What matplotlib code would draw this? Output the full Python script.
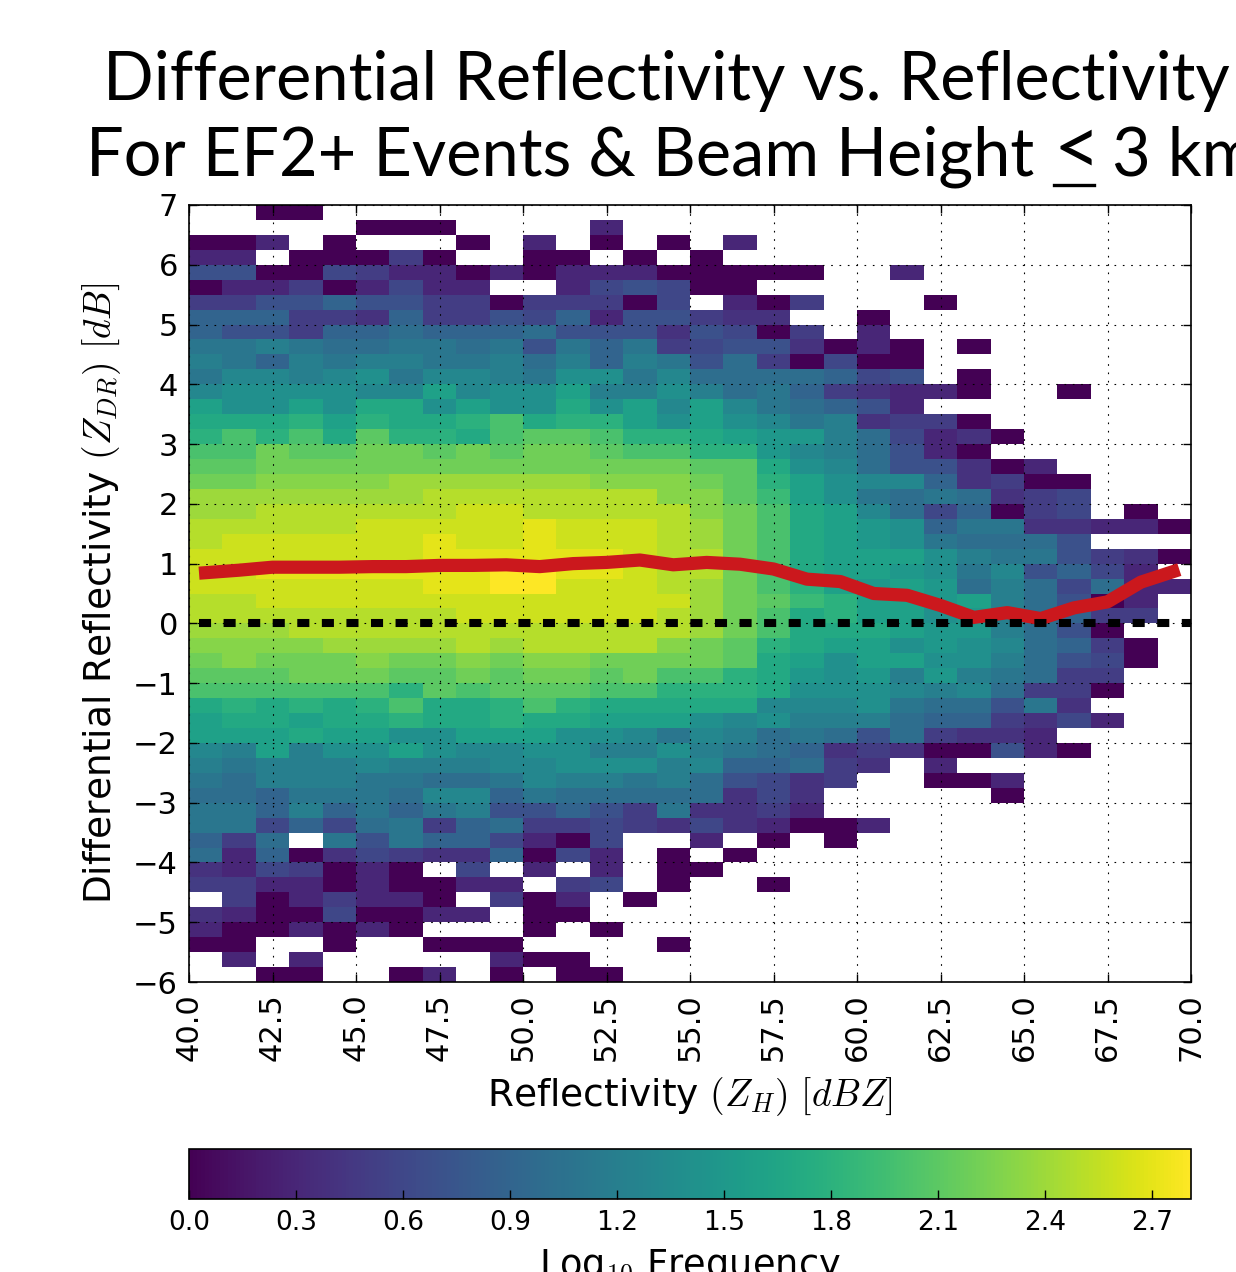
import matplotlib
matplotlib.use('Agg')
import matplotlib.pyplot as plt
from matplotlib.lines import Line2D
import numpy as np

W, H = 1236, 1272
X = -1

# log10 frequency x 10, top row (6.75-7 dB) first, X = no samples
log_freq_tenths = [
    [X,X,0,0,X,X,X,X,X,X, X,X,X,X,X,X,X,X,X,X, X,X,X,X,X,X,X,X,X,X],
    [X,X,X,X,X,0,0,0,X,X, X,X,3,X,X,X,X,X,X,X, X,X,X,X,X,X,X,X,X,X],
    [0,0,3,X,0,X,X,X,0,X, 3,X,0,X,0,X,3,X,X,X, X,X,X,X,X,X,X,X,X,X],
    [3,3,X,0,0,0,5,0,X,X, 0,0,X,0,X,0,X,X,X,X, X,X,X,X,X,X,X,X,X,X],
    [7,7,0,0,6,5,3,3,0,3, 0,3,3,3,0,0,0,0,0,X, X,3,X,X,X,X,X,X,X,X],
    [0,3,3,5,0,3,6,3,3,X, X,3,6,7,6,0,0,X,X,X, X,X,X,X,X,X,X,X,X,X],
    [5,5,7,7,9,7,7,5,5,0, 5,5,5,0,6,X,3,0,5,X, X,X,0,X,X,X,X,X,X,X],
    [9,9,9,5,5,4,9,5,5,7, 6,9,3,7,7,5,4,4,X,X, 0,X,X,X,X,X,X,X,X,X],
    [9,7,7,5,9,9,10,9,9,9, 10,7,7,7,4,7,6,0,5,X, 3,X,X,X,X,X,X,X,X,X],
    [11,11,12,11,10,10,11,11,10,11, 7,11,9,11,5,6,7,7,4,0, 3,0,X,0,X,X,X,X,X,X],
    [12,11,9,12,11,12,12,11,11,12, 10,12,9,12,11,7,10,5,0,6, 0,0,X,X,X,X,X,X,X,X],
    [11,13,13,12,13,14,11,13,13,12, 11,14,14,11,13,10,10,10,10,9, 6,7,X,0,X,X,X,X,X,X],
    [13,14,14,14,14,13,13,16,13,14, 14,16,12,12,14,12,10,11,9,5, 4,3,3,0,X,X,0,X,X,X],
    [16,14,14,16,14,17,17,14,16,14, 14,17,14,16,13,16,13,11,10,9, 7,3,X,X,X,X,X,X,X,X],
    [17,17,17,18,16,18,17,17,18,20, 17,18,18,16,14,16,14,13,11,12, 4,5,5,0,X,X,X,X,X,X],
    [18,20,18,20,17,21,18,18,17,20, 21,21,20,18,18,17,16,15,15,12, 10,6,3,4,0,X,X,X,X,X],
    [20,20,22,21,21,22,22,21,22,21, 22,22,21,20,20,18,18,15,13,12, 10,7,3,0,X,X,X,X,X,X],
    [21,21,22,22,22,22,22,22,22,22, 22,22,22,22,22,21,21,17,14,13, 10,7,7,4,0,3,X,X,X,X],
    [22,22,23,23,23,23,24,24,24,24, 24,24,23,23,23,22,21,18,16,14, 13,13,9,4,5,0,0,X,X,X],
    [24,24,24,24,24,24,24,25,25,25, 25,25,25,25,23,23,21,19,16,14, 11,10,11,10,4,5,6,X,X,X],
    [24,24,25,25,25,25,25,25,26,26, 25,25,25,25,25,23,22,20,17,16, 13,10,6,9,0,5,6,X,0,X],
    [25,25,25,25,25,26,26,26,26,26, 27,26,26,26,25,24,22,20,17,16, 15,14,9,11,11,4,4,3,3,0],
    [25,26,26,26,26,26,26,27,26,26, 27,26,26,26,25,24,22,20,17,16, 15,14,11,10,10,10,7,X,X,X],
    [26,26,26,26,26,26,26,27,27,27, 27,27,27,26,25,25,22,20,17,16, 16,16,14,12,11,11,7,5,4,0],
    [26,26,27,27,27,27,27,27,27,28, 28,27,27,26,25,25,22,20,17,16, 16,15,14,11,13,7,9,6,3,X],
    [26,26,26,26,26,26,26,27,27,28, 28,26,26,26,25,24,22,20,18,16, 15,16,15,10,12,10,6,10,3,3],
    [25,25,26,26,26,26,26,26,26,26, 26,26,26,26,26,24,22,21,19,18, 16,16,15,16,12,10,7,0,3,X],
    [25,25,25,25,25,25,25,25,26,26, 26,26,26,26,25,24,22,20,17,18, 16,16,14,15,12,10,9,5,5,X],
    [24,24,24,25,25,25,25,25,25,25, 25,25,25,25,25,24,22,20,17,17, 17,16,15,15,12,10,7,0,X,X],
    [23,23,23,23,24,24,24,24,25,24, 25,25,25,25,23,22,21,18,17,16, 16,14,15,14,13,10,9,5,0,X],
    [22,23,22,22,22,23,22,22,23,22, 23,23,22,22,22,22,21,17,16,14, 16,16,14,14,12,10,7,6,0,X],
    [21,21,21,22,22,22,21,21,22,21, 22,22,21,22,20,20,18,17,15,14, 15,12,15,12,11,10,5,5,X,X],
    [20,20,20,20,20,20,18,21,20,21, 21,21,20,20,18,18,18,17,14,14, 14,13,12,13,10,5,5,0,X,X],
    [17,18,17,18,17,18,20,17,17,18, 20,18,17,17,17,17,17,13,13,13, 14,11,10,10,7,11,4,X,X,X],
    [16,17,17,16,17,17,18,17,17,18, 17,17,16,16,16,14,13,14,12,12, 12,10,9,9,5,4,6,3,X,X],
    [16,16,16,17,16,16,14,14,16,16, 16,14,14,13,11,13,12,10,11,10, 7,10,5,4,4,3,X,X,X,X],
    [13,12,16,12,14,14,16,14,13,13, 14,14,12,12,14,12,11,10,9,4, 5,4,0,0,7,3,0,X,X,X],
    [12,11,12,12,12,13,12,12,12,13, 13,14,14,14,12,13,9,9,10,5, 4,X,3,X,X,X,X,X,X,X],
    [11,10,12,12,12,11,11,10,10,11, 13,12,12,11,12,10,7,6,4,5, X,X,0,0,3,X,X,X,X,X],
    [10,10,9,11,11,11,10,13,13,9, 11,10,10,10,10,10,4,6,4,X, X,X,X,X,0,X,X,X,X,X],
    [11,11,9,12,9,11,9,11,12,7, 7,9,7,5,11,4,4,5,3,X, X,X,X,X,X,X,X,X,X,X],
    [11,11,6,9,6,10,11,5,9,10, 5,5,6,5,4,6,4,3,0,0, 3,X,X,X,X,X,X,X,X,X],
    [9,5,10,X,11,7,11,9,9,6, 3,0,6,X,X,3,X,0,X,0, X,X,X,X,X,X,X,X,X,X],
    [10,3,9,0,4,6,5,4,4,9, 0,6,3,X,0,X,0,X,X,X, X,X,X,X,X,X,X,X,X,X],
    [4,3,6,5,0,3,0,X,6,X, 3,X,3,X,0,0,X,X,X,X, X,X,X,X,X,X,X,X,X,X],
    [5,5,3,3,0,3,0,0,3,3, X,5,6,X,0,X,X,0,X,X, X,X,X,X,X,X,X,X,X,X],
    [X,5,0,3,5,3,3,0,X,5, 0,3,X,0,X,X,X,X,X,X, X,X,X,X,X,X,X,X,X,X],
    [4,3,0,0,6,0,0,3,3,X, 0,0,X,X,X,X,X,X,X,X, X,X,X,X,X,X,X,X,X,X],
    [3,0,0,3,0,3,0,X,X,X, 0,X,0,X,X,X,X,X,X,X, X,X,X,X,X,X,X,X,X,X],
    [0,0,X,X,0,X,X,0,0,0, X,X,X,X,0,X,X,X,X,X, X,X,X,X,X,X,X,X,X,X],
    [X,3,X,3,X,X,X,X,X,3, 0,0,X,X,X,X,X,X,X,X, X,X,X,X,X,X,X,X,X,X],
    [X,X,0,0,X,X,0,3,X,0, X,0,0,X,X,X,X,X,X,X, X,X,X,X,X,X,X,X,X,X],
]

median_zh = [40.3, 41.5, 42.5, 43.5, 44.5, 45.5, 46.5, 47.5, 48.5, 49.5,
             50.5, 51.5, 52.5, 53.5, 54.5, 55.5, 56.5, 57.5, 58.5, 59.5,
             60.5, 61.5, 62.5, 63.5, 64.5, 65.5, 66.5, 67.5, 68.5, 69.65]
median_zdr = [0.84, 0.89, 0.94, 0.94, 0.94, 0.95, 0.95, 0.97, 0.97, 0.98,
              0.95, 1.00, 1.02, 1.06, 0.98, 1.02, 0.99, 0.91, 0.74, 0.70,
              0.50, 0.47, 0.30, 0.10, 0.18, 0.08, 0.26, 0.36, 0.69, 0.90]

x_ticks = [40.0, 42.5, 45.0, 47.5, 50.0, 52.5, 55.0, 57.5, 60.0, 62.5, 65.0, 67.5, 70.0]
y_ticks = [-6, -5, -4, -3, -2, -1, 0, 1, 2, 3, 4, 5, 6, 7]
cbar_ticks = [0.0, 0.3, 0.6, 0.9, 1.2, 1.5, 1.8, 2.1, 2.4, 2.7]

zh_edges = np.arange(40, 71, 1.0)
zdr_edges = np.arange(-6, 7.25, 0.25)

plt.rcParams['mathtext.fontset'] = 'cm'
plt.rcParams['axes.linewidth'] = 1.2

fig = plt.figure(figsize=(W / 100, H / 100), dpi=100)
ax = fig.add_axes([189 / W, 1 - 982 / H, 1002 / W, 777 / H])

grid = np.ma.masked_less(np.array(log_freq_tenths)[::-1] / 10.0, 0)
mesh = ax.pcolormesh(zh_edges, zdr_edges, grid, cmap='viridis', vmin=0, vmax=2.81)

ax.plot(median_zh, median_zdr, color='#cb181d', lw=9.5, solid_capstyle='butt', zorder=3)
ax.plot([40.3, 70], [0, 0], color='black', lw=5.8, linestyle=(0, (1.5, 1.55)),
        dash_capstyle='butt', zorder=3)

ax.set_xlim(40, 70)
ax.set_ylim(-6, 7)
ax.set_xticks(x_ticks)
ax.set_yticks(y_ticks)
ax.set_xticklabels(['%.1f' % t for t in x_ticks], rotation=90)
ax.tick_params(direction='in', length=6, width=1, top=True, right=True, labelsize=22, pad=8)
ax.grid(True, color='black', lw=0.8, linestyle=(0, (1.5, 6)), zorder=4)
ax.set_axisbelow(False)
for gl in ax.get_xgridlines() + ax.get_ygridlines():
    gl.set_zorder(4)

ax.set_xlabel(r'Reflectivity $(Z_H)$ $[dBZ]$', fontsize=27, labelpad=10)
ax.set_ylabel(r'Differential Reflectivity $(Z_{DR})$ $[dB]$', fontsize=27, labelpad=7)

cax = fig.add_axes([189 / W, 1 - 1199 / H, 1002 / W, 50 / H])
cbar = fig.colorbar(mesh, cax=cax, orientation='horizontal', ticks=cbar_ticks)
cbar.ax.tick_params(direction='in', length=6.5, width=1, labelsize=19, pad=8)
cbar.ax.set_xticklabels(['%.1f' % t for t in cbar_ticks])
cbar.set_label(r'Log$_{10}$ Frequency', fontsize=26.5, labelpad=8)

# the title runs off the right edge in the original slide
title_font = dict(family='Lato', ha='left', va='baseline')
fig.text(103 / W, 1 - 100 / H, 'Differential Reflectivity vs. Reflectivity',
         fontsize=48, **title_font)
fig.text(86 / W, 1 - 175 / H, 'For EF2+ Events & Beam Height', fontsize=48, **title_font)
fig.text(1053 / W, 1 - 175 / H, '<', fontsize=58, **title_font)
fig.text(1112 / W, 1 - 175 / H, '3 km', fontsize=48, **title_font)
fig.add_artist(Line2D([1054 / W, 1094 / W], [1 - 185 / H, 1 - 185 / H], color='black', lw=2.4))

fig.savefig('out.png', dpi=100)
